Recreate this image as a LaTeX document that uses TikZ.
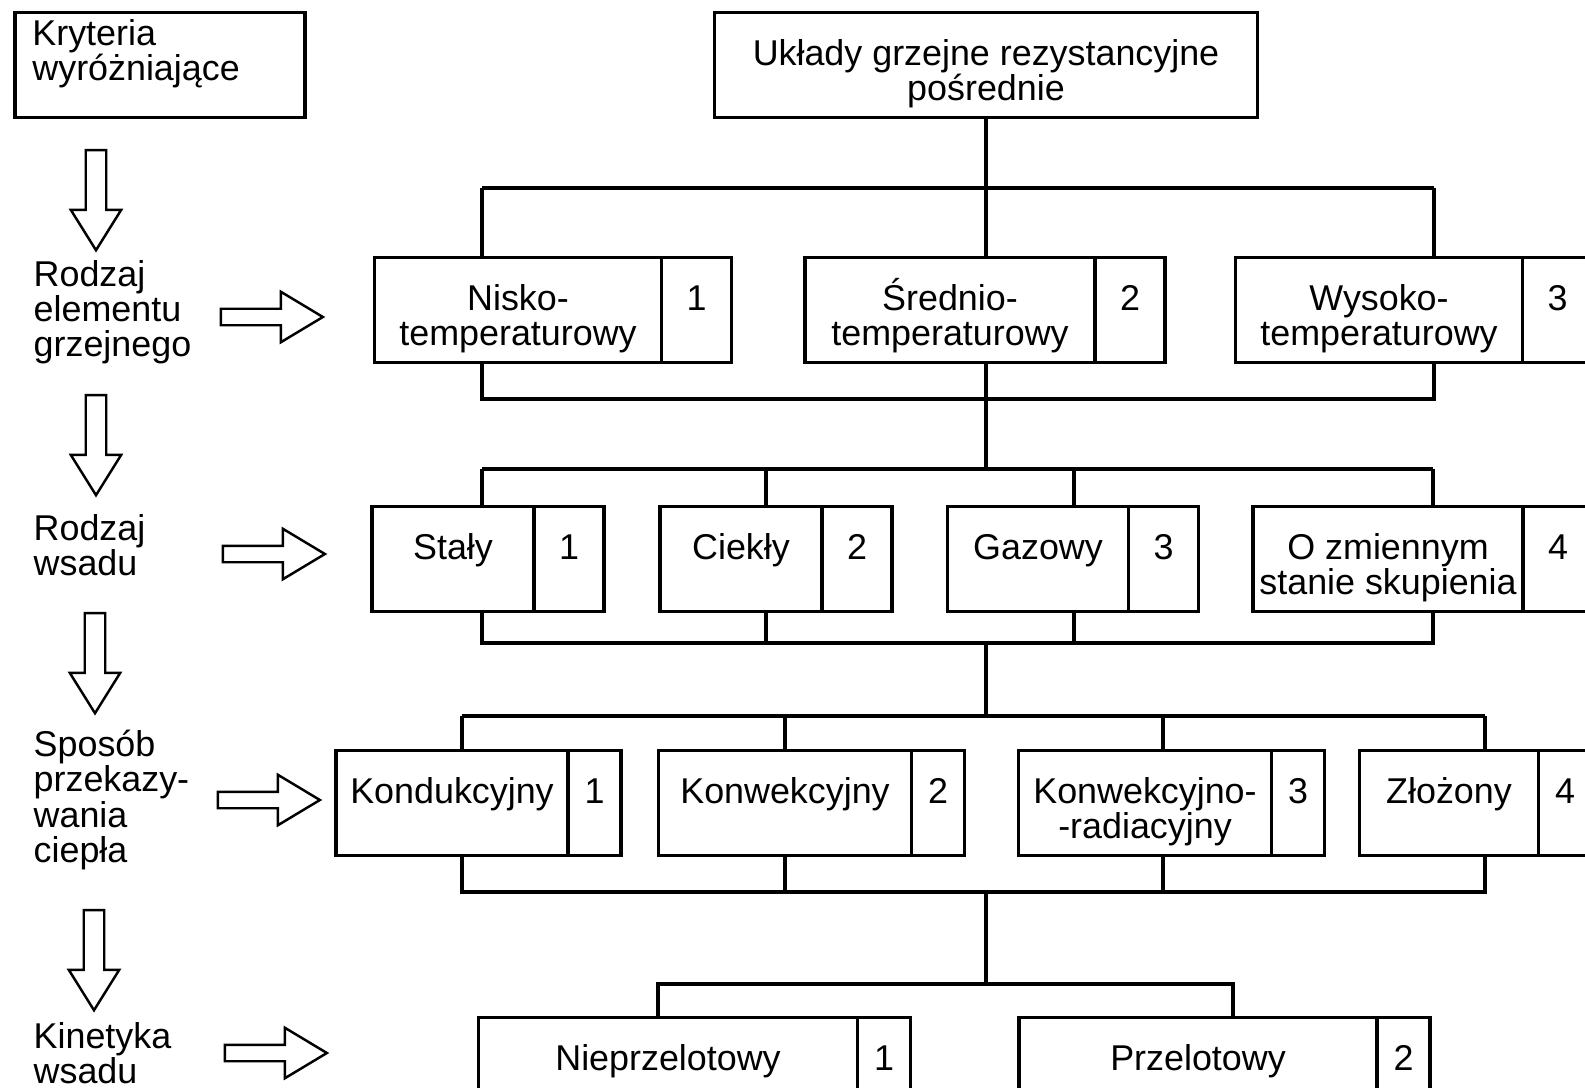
\documentclass[tikz,border=0pt]{standalone}
\usepackage{fontspec}
\setmainfont{Liberation Sans}
\usepackage{tikz}
\usetikzlibrary{shapes,arrows,positioning}
\newcommand{\boxfont}{\fontsize{10.2}{10}\selectfont}
\tikzstyle{kind} = [draw, line width=1pt, outer sep=0pt, inner sep=0pt, align=center, minimum height=1.05cm, text height=22.2pt, text depth=2pt, font=\boxfont]
\tikzstyle{num} = [kind, minimum width=0.7cm]
\tikzstyle{numsm} = [kind, minimum width=0.53cm]
\tikzstyle{crit} = [draw=none, fill=none, align=left, anchor=west, inner sep=0pt, font=\boxfont]
\tikzstyle{link} = [draw, line width=1pt]
\tikzstyle{downarr} = [single arrow, draw, line width=0.7pt, rotate=-90, minimum height=1cm, minimum width=0pt, inner xsep=0pt, inner ysep=0.09cm, single arrow head extend=0.15cm, single arrow tip angle=64]
\tikzstyle{rightarr} = [single arrow, draw, line width=0.7pt, minimum height=1.02cm, minimum width=0pt, inner xsep=0pt, inner ysep=0.07cm, single arrow head extend=0.17cm, single arrow tip angle=62]

\begin{document}
\begin{tikzpicture}[x=0.01cm, y=-0.01cm]
\useasboundingbox (0,0) rectangle (1585,1088);
\clip (0,0) rectangle (1585,1088);

% criteria =============================

% nodes
\node[kind, align=left, text width=2.55cm, minimum width=2.9cm, text height=2pt, text depth=13pt] (krit) at (160,65) {Kryteria\\wyróżniające};
\node[crit] (elem) at (33,312) {Rodzaj\\elementu\\grzejnego};
\node[crit] (wsad) at (33,545) {Rodzaj\\wsadu};
\node[crit] (ciep) at (33,800) {Sposób\\przekazy-\\wania\\ciepła};
\node[crit] (kin) at (33,1053) {Kinetyka\\wsadu};

% arrows
\node[downarr] (d1) at (96,192) {};
\node[downarr] (d2) at (96,437) {};
\node[downarr] (d3) at (95,655) {};
\node[downarr] (d4) at (94,952) {};
\node[rightarr] (r1) at (265,317) {};
\node[rightarr] (r2) at (267,554) {};
\node[rightarr] (r3) at (262,800) {};
\node[rightarr] (r4) at (269,1053) {};

% tree =============================

% nodes
\node[kind, minimum width=5.43cm] (root) at (986,65) {Układy grzejne rezystancyjne\\pośrednie};

\node[kind, minimum width=2.87cm] (nisko) at (518,310) {Nisko-\\temperaturowy};
\node[num, right=0pt of nisko] (nisko-n) {1\\~};
\node[kind, minimum width=2.9cm] (sred) at (950,310) {Średnio-\\temperaturowy};
\node[num, right=0pt of sred] (sred-n) {2\\~};
\node[kind, minimum width=2.87cm] (wys) at (1379,310) {Wysoko-\\temperaturowy};
\node[num, right=0pt of wys] (wys-n) {3\\~};

\node[kind, minimum width=1.62cm] (staly) at (453,559) {Stały\\~};
\node[num, right=0pt of staly] (staly-n) {1\\~};
\node[kind, minimum width=1.62cm] (ciekly) at (741,559) {Ciekły\\~};
\node[num, right=0pt of ciekly] (ciekly-n) {2\\~};
\node[kind, minimum width=1.81cm] (gaz) at (1038,559) {Gazowy\\~};
\node[num, right=0pt of gaz] (gaz-n) {3\\~};
\node[kind, minimum width=2.7cm] (zmien) at (1388,559) {O zmiennym\\stanie skupienia};
\node[num, right=0pt of zmien] (zmien-n) {4\\~};

\node[kind, minimum width=2.32cm] (kond) at (452,803) {Kondukcyjny\\~};
\node[numsm, right=0pt of kond] (kond-n) {1\\~};
\node[kind, minimum width=2.53cm] (konw) at (785,803) {Konwekcyjny\\~};
\node[numsm, right=0pt of konw] (konw-n) {2\\~};
\node[kind, minimum width=2.53cm] (konwr) at (1145,803) {Konwekcyjno-\\-radiacyjny};
\node[numsm, right=0pt of konwr] (konwr-n) {3\\~};
\node[kind, minimum width=1.79cm] (zloz) at (1449,803) {Złożony\\~};
\node[numsm, right=0pt of zloz] (zloz-n) {4\\~};

\node[kind, minimum width=3.79cm] (niep) at (668,1070) {Nieprzelotowy\\~};
\node[numsm, right=0pt of niep] (niep-n) {1\\~};
\node[kind, minimum width=3.58cm] (prz) at (1198,1070) {Przelotowy\\~};
\node[numsm, right=0pt of prz] (prz-n) {2\\~};

% taps
\coordinate (t1a) at (482,188);
\coordinate (t1b) at (986,188);
\coordinate (t1c) at (1434,188);
\coordinate (u1) at (0,399);
\coordinate (t2a) at (482,469);
\coordinate (t2b) at (766,469);
\coordinate (t2c) at (1074,469);
\coordinate (t2d) at (1433,469);
\coordinate (u2) at (0,643);
\coordinate (t3a) at (462,716);
\coordinate (t3b) at (785,716);
\coordinate (t3c) at (1163,716);
\coordinate (t3d) at (1485,716);
\coordinate (u3) at (0,892);
\coordinate (t4a) at (658,984);
\coordinate (t4b) at (1233,984);

% edges
\path[link] (root.south) -- (t1b);
\path[link] (t1a) -- (t1c);
\path[link] (t1a) -- (t1a |- nisko.north);
\path[link] (t1b) -- (t1b |- sred.north);
\path[link] (t1c) -- (t1c |- wys.north);
\path[link] (t1a |- nisko.south) -- (t1a |- u1) -- (t1c |- u1) -- (t1c |- wys.south);
\path[link] (t1b |- sred.south) -- (t1b |- u1) -- (t1b |- t2a);

\path[link] (t2a) -- (t2d);
\path[link] (t2a) -- (t2a |- staly.north);
\path[link] (t2b) -- (t2b |- ciekly.north);
\path[link] (t2c) -- (t2c |- gaz.north);
\path[link] (t2d) -- (t2d |- zmien.north);
\path[link] (t2a |- staly.south) -- (t2a |- u2) -- (t2d |- u2) -- (t2d |- zmien.south);
\path[link] (t2b |- ciekly.south) -- (t2b |- u2);
\path[link] (t2c |- gaz.south) -- (t2c |- u2);
\path[link] (t1b |- u2) -- (t1b |- t3a);

\path[link] (t3a) -- (t3d);
\path[link] (t3a) -- (t3a |- kond.north);
\path[link] (t3b) -- (t3b |- konw.north);
\path[link] (t3c) -- (t3c |- konwr.north);
\path[link] (t3d) -- (t3d |- zloz.north);
\path[link] (t3a |- kond.south) -- (t3a |- u3) -- (t3d |- u3) -- (t3d |- zloz.south);
\path[link] (t3b |- konw.south) -- (t3b |- u3);
\path[link] (t3c |- konwr.south) -- (t3c |- u3);
\path[link] (t1b |- u3) -- (t1b |- t4a);

\path[link] (t4a |- niep.north) -- (t4a) -- (t4b) -- (t4b |- prz.north);

\end{tikzpicture}
\end{document}
